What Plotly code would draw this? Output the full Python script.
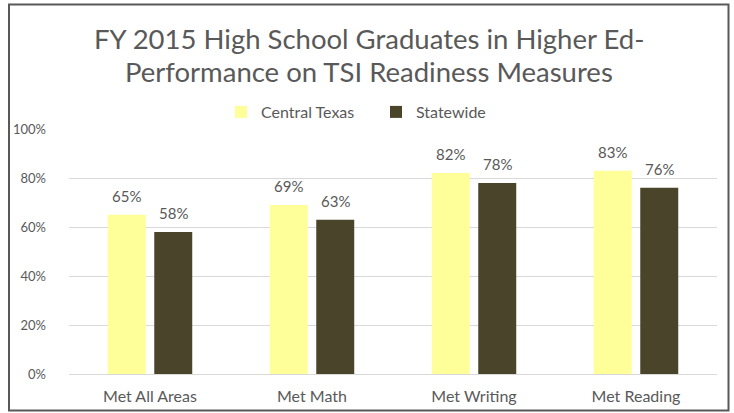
import plotly.graph_objects as go

categories = ["Met All Areas", "Met Math", "Met Writing", "Met Reading"]
central_texas = [65, 69, 82, 83]
statewide = [58, 63, 78, 76]
series_names = ["Central Texas", "Statewide"]
tick_vals = [0, 20, 40, 60, 80, 100]
tick_text = ["0%", "20%", "40%", "60%", "80%", "100%"]
title_lines = ["FY 2015 High School Graduates in Higher Ed-",
               "Performance on TSI Readiness Measures"]

FONT = "Lato"
TXT = "#595959"
BARGAP, GROUPGAP = 0.426, 0.183

L, R, T, B = 69, 17, 129, 39
W, H = 734, 413
pw, ph = W - L - R, H - T - B
def px(x): return (x - L) / pw
def py(y): return (H - B - y) / ph

fig = go.Figure()
fig.add_trace(go.Bar(
    name=series_names[0], x=categories, y=central_texas,
    marker=dict(color="#FFFF99", line=dict(width=0)),
))
fig.add_trace(go.Bar(
    name=series_names[1], x=categories, y=statewide,
    marker=dict(color="#4A452A", line=dict(width=0)),
))

# data labels placed above each bar (shift derived from the bar layout)
slot = pw / len(categories) * (1 - BARGAP) / 2
annotations = []
for vals, sgn in ((central_texas, -1), (statewide, 1)):
    for c, v in zip(categories, vals):
        annotations.append(dict(
            x=c, y=v, xref="x", yref="y", text=f"{v}%", showarrow=False,
            xanchor="center", yanchor="bottom", xshift=sgn * slot / 2, yshift=8,
            font=dict(family=FONT, size=15, color=TXT),
        ))

annotations += [
    dict(text=title_lines[0], xref="paper", yref="paper", x=px(369), y=py(38),
         xanchor="center", yanchor="middle", showarrow=False,
         font=dict(family=FONT, size=27.5, color=TXT)),
    dict(text=title_lines[1], xref="paper", yref="paper", x=px(369), y=py(71),
         xanchor="center", yanchor="middle", showarrow=False,
         font=dict(family=FONT, size=27.5, color=TXT)),
]

fig.update_layout(
    width=W, height=H,
    margin=dict(l=L, r=R, t=T, b=B, autoexpand=False),
    paper_bgcolor="white", plot_bgcolor="white",
    barmode="group", bargap=BARGAP, bargroupgap=GROUPGAP,
    annotations=annotations,
    legend=dict(
        orientation="h", x=px(376), xanchor="center", y=py(112), yanchor="middle",
        font=dict(family=FONT, size=16, color=TXT), itemwidth=30,
        entrywidth=110, entrywidthmode="pixels",
        traceorder="normal",
    ),
    font=dict(family=FONT, color=TXT),
    xaxis=dict(
        showgrid=False, showline=True, linecolor="#D9D9D9", linewidth=1,
        tickfont=dict(family=FONT, size=16, color=TXT), ticks="",
        ticklabelstandoff=8, automargin=False,
    ),
    yaxis=dict(
        range=[0, 100], tickvals=tick_vals, ticktext=tick_text,
        showgrid=True, gridcolor="#D9D9D9", gridwidth=1, zeroline=False,
        tickfont=dict(family=FONT, size=13, color=TXT), ticks="",
        showline=False, ticklabelstandoff=22, automargin=False,
    ),
    shapes=[dict(
        type="rect", xref="paper", yref="paper",
        x0=px(9), x1=px(728.5), y0=py(410.5), y1=py(4.5),
        line=dict(color="#595959", width=2), fillcolor="rgba(0,0,0,0)",
        layer="above",
    )],
)

fig.write_html("out.html", config={"displayModeBar": False},
               post_script="document.body.style.margin='0';document.body.style.padding='0';")
